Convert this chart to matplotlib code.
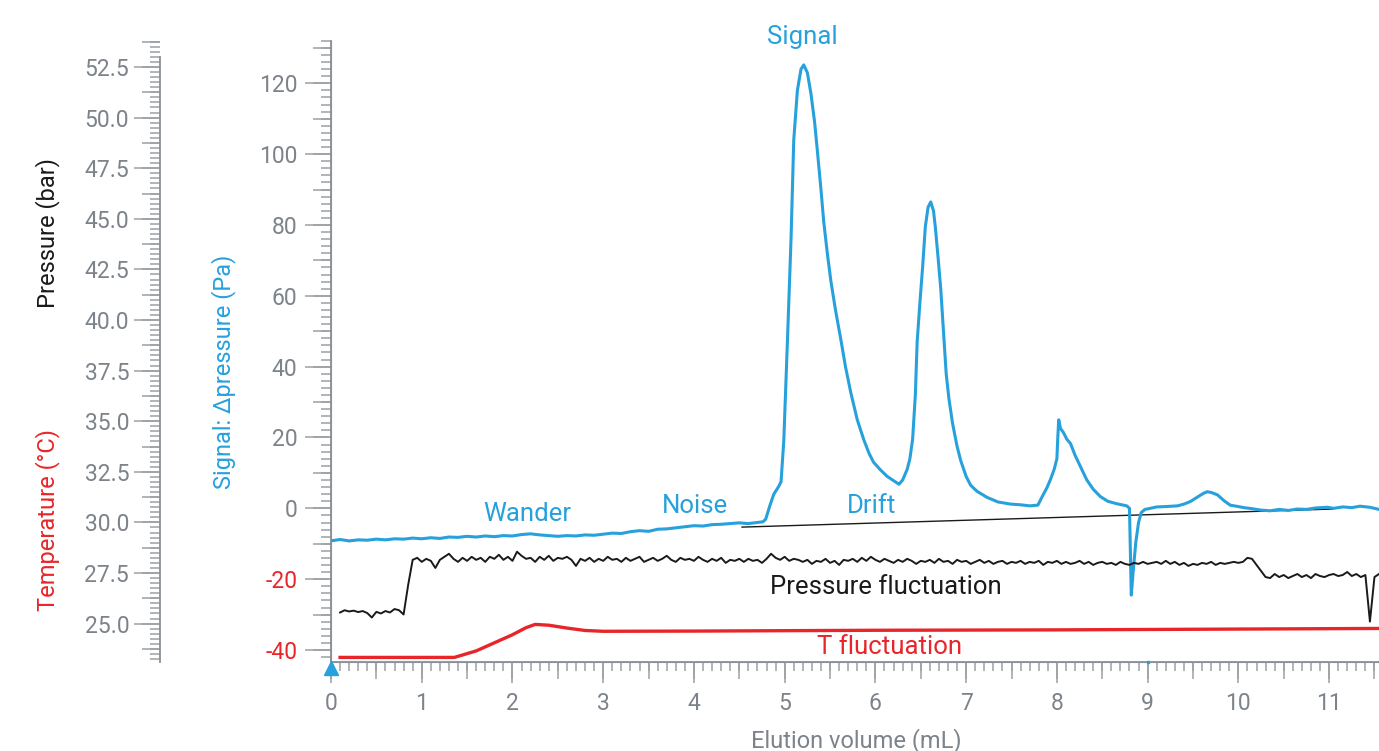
import numpy as np
import matplotlib
matplotlib.use('Agg')
from matplotlib import pyplot as plt
from matplotlib.ticker import MultipleLocator, FormatStrFormatter

plt.rcParams['font.family'] = ['Roboto', 'DejaVu Sans']
plt.rcParams['axes.unicode_minus'] = False

BLUE = '#27a1dc'
RED = '#e8262a'
BLACK = '#1a1a1a'
GRAY_TICK = '#9ba0a6'
GRAY_TXT = '#7d838a'

# signal (delta pressure, Pa) vs elution volume (mL)
sig_x = [0.02, 0.1, 0.2, 0.3, 0.4, 0.5, 0.6, 0.7, 0.8, 0.9, 1.0, 1.1, 1.2, 1.3, 1.4, 1.5,
         1.6, 1.7, 1.8, 1.9, 2.0, 2.1, 2.2, 2.3, 2.4, 2.5, 2.6, 2.7, 2.8, 2.9, 3.0, 3.1,
         3.2, 3.3, 3.4, 3.5, 3.6, 3.7, 3.8, 3.9, 4.0, 4.1, 4.2, 4.3, 4.4, 4.5, 4.6, 4.7,
         4.76, 4.79, 4.84, 4.88, 4.93, 4.96, 4.99, 5.03, 5.07, 5.10, 5.14, 5.18, 5.21, 5.25,
         5.29, 5.33, 5.36, 5.40, 5.43, 5.47, 5.51, 5.56, 5.62, 5.67, 5.73, 5.80, 5.87, 5.93,
         5.98, 6.05, 6.13, 6.20, 6.26, 6.30, 6.35, 6.38, 6.41, 6.44, 6.46, 6.49, 6.52, 6.55,
         6.58, 6.61, 6.64, 6.66, 6.69, 6.72, 6.75, 6.78, 6.81, 6.85, 6.90, 6.94, 7.00, 7.05,
         7.12, 7.23, 7.35, 7.49, 7.60, 7.70, 7.79, 7.84, 7.89, 7.93, 7.97, 8.00, 8.01, 8.02,
         8.04, 8.07, 8.11, 8.15, 8.20, 8.26, 8.33, 8.40, 8.48, 8.56, 8.66, 8.77, 8.80, 8.81,
         8.82, 8.84, 8.87, 8.90, 8.93, 8.97, 9.03, 9.10, 9.20, 9.33, 9.40, 9.47, 9.55, 9.62,
         9.66, 9.71, 9.77, 9.84, 9.91, 10.0, 10.06, 10.15, 10.25, 10.35, 10.45, 10.55, 10.65,
         10.75, 10.85, 10.98, 11.05, 11.15, 11.25, 11.34, 11.45, 11.55]
sig_y = [-9.1, -8.8, -9.2, -8.9, -9.0, -8.7, -8.9, -8.6, -8.7, -8.4, -8.6, -8.3, -8.5, -8.1, -8.2, -7.9,
         -8.1, -7.8, -8.0, -7.7, -7.8, -7.4, -7.2, -7.5, -7.7, -7.9, -7.7, -7.8, -7.5, -7.6, -7.3, -7.0,
         -7.1, -6.6, -6.3, -6.5, -5.9, -5.8, -5.5, -5.2, -4.9, -5.0, -4.6, -4.5, -4.3, -4.1, -4.3, -4.0,
         -3.8, -3.1, 1.0, 4.0, 6.0, 7.5, 19, 47, 76, 104, 118, 124, 125.2, 123,
         117, 109, 101, 90, 81, 72, 64, 56, 47.5, 40, 32.5, 25, 19.5, 15.5,
         13, 11, 9, 7.8, 6.8, 8, 11, 14, 19.5, 32, 47, 58, 68, 79.5,
         85, 86.5, 84, 79.5, 71, 62, 50, 38, 31, 24, 17.5, 13.5, 9, 6.5,
         4.8, 3.1, 1.8, 1.2, 1.0, 0.7, 0.9, 3.4, 5.8, 8.2, 11, 14, 20, 25,
         22.5, 21.5, 19.5, 18.3, 15, 11.8, 8, 5.4, 3.3, 2.0, 1.3, 0.7, 0.0, -12,
         -24.5, -18, -9.5, -4, -1.2, -0.3, 0.0, 0.4, 0.5, 0.7, 1.2, 1.9, 3.2, 4.3,
         4.7, 4.4, 3.8, 2.2, 0.9, 0.5, 0.2, -0.1, -0.5, -0.7, -0.3, -0.6, -0.2,
         -0.3, 0.1, 0.3, 0.0, 0.4, 0.2, 0.6, 0.3, -0.3]

# drift baseline
drift_x = [4.53, 11.04]
drift_y = [-5.3, -0.2]

# pressure (bar), sampled every 0.05 mL from 0.10 mL
p_start, p_step = 0.10, 0.05
pressure = [25.55, 25.66, 25.60, 25.64, 25.57, 25.62, 25.52, 25.30, 25.58, 25.50,
            25.62, 25.55, 25.72, 25.66, 25.45, 26.90, 28.15, 28.25, 28.05, 28.20,
            28.10, 27.75, 28.15, 28.30, 28.45, 28.20, 28.05, 28.25, 28.10, 28.30,
            28.15, 28.25, 28.05, 28.30, 28.20, 28.40, 28.15, 28.30, 28.10, 28.55,
            28.35, 28.20, 28.25, 28.05, 28.30, 28.15, 28.35, 28.10, 28.25, 28.20,
            28.30, 28.15, 27.85, 28.20, 28.10, 28.25, 28.05, 28.20, 28.10, 28.30,
            28.15, 28.20, 28.05, 28.25, 28.10, 28.20, 28.30, 28.05, 28.15, 28.25,
            28.10, 28.20, 28.35, 28.15, 28.05, 28.25, 28.15, 28.20, 28.10, 28.30,
            28.15, 28.05, 28.20, 28.10, 28.25, 28.00, 28.15, 28.10, 28.20, 28.05,
            28.20, 28.10, 28.15, 28.00, 28.20, 28.45, 28.25, 28.15, 28.30, 28.10,
            28.20, 28.15, 28.05, 28.15, 27.95, 28.10, 28.05, 28.20, 28.00, 28.10,
            27.90, 28.15, 28.10, 28.20, 28.05, 28.25, 28.10, 28.30, 28.15, 28.05,
            28.20, 28.10, 28.00, 28.15, 28.05, 28.20, 28.10, 27.95, 28.10, 28.05,
            28.15, 28.00, 28.20, 28.05, 28.10, 27.95, 28.15, 28.05, 28.10, 27.95,
            28.05, 28.15, 28.00, 28.10, 27.95, 28.05, 28.10, 27.95, 28.05, 28.00,
            28.10, 27.95, 28.05, 28.00, 28.10, 27.90, 28.05, 28.00, 28.10, 27.95,
            28.05, 27.95, 28.00, 28.10, 27.95, 28.05, 27.90, 28.00, 28.05, 27.95,
            28.00, 27.90, 28.05, 27.95, 27.90, 28.00, 27.95, 28.05, 27.95, 28.00,
            28.05, 27.95, 28.10, 27.95, 28.05, 27.90, 28.00, 27.85, 27.95, 27.90,
            28.00, 27.95, 28.05, 27.90, 28.00, 27.95, 28.00, 28.05, 28.00, 28.05,
            28.25, 28.20, 27.90, 27.60, 27.30, 27.25, 27.45, 27.30, 27.40, 27.25,
            27.35, 27.45, 27.30, 27.40, 27.25, 27.45, 27.35, 27.30, 27.40, 27.45,
            27.35, 27.40, 27.55, 27.35, 27.45, 27.30, 27.40, 25.10, 27.30, 27.45]
press_x = p_start + p_step * np.arange(len(pressure))

# temperature (degC)
temp_x = [0.10, 1.36, 1.45, 1.60, 1.80, 2.00, 2.15, 2.25, 2.40, 2.60, 2.80, 3.00,
          4.00, 5.00, 6.00, 7.00, 8.00, 9.00, 10.00, 11.55]
temp_y = [23.33, 23.33, 23.45, 23.65, 24.05, 24.45, 24.80, 24.96, 24.92, 24.78, 24.66, 24.62,
          24.63, 24.65, 24.67, 24.68, 24.69, 24.71, 24.73, 24.76]

W, H = 1379, 751
fig = plt.figure(figsize=(W / 100, H / 100), dpi=100)
left, right, top, bottom = 331, 1379, 40.8, 661.7
rect = [left / W, 1 - bottom / H, (right - left) / W, (bottom - top) / H]

ax = fig.add_axes(rect)
ax.set_xlim(0, 11.55)
ax.set_ylim(-43.3, 132)
for s in ['top', 'right']:
    ax.spines[s].set_visible(False)
for s in ['left', 'bottom']:
    ax.spines[s].set_color('#8a9097')
    ax.spines[s].set_linewidth(1.3)

ax.xaxis.set_major_locator(MultipleLocator(1))
ax.xaxis.set_minor_locator(MultipleLocator(0.1))
ax.yaxis.set_major_locator(MultipleLocator(20))
ax.yaxis.set_minor_locator(MultipleLocator(2))
ax.tick_params(axis='x', which='major', length=15, width=1.1, color=GRAY_TICK,
               labelsize=16.5, labelcolor=GRAY_TXT, pad=7)
ax.tick_params(axis='x', which='minor', length=6.5, width=1.1, color=GRAY_TICK)
ax.tick_params(axis='y', which='major', length=18.7, width=1.1, color=GRAY_TICK,
               labelsize=16.5, labelcolor=GRAY_TXT, pad=5.5)
ax.tick_params(axis='y', which='minor', length=7.2, width=1.1, color=GRAY_TICK)

# medium ticks
secx = ax.secondary_xaxis('bottom')
secx.xaxis.set_major_locator(MultipleLocator(0.5))
secx.tick_params(length=12, width=1.1, color=GRAY_TICK, labelbottom=False)
secx.spines['bottom'].set_color('#8a9097')
secy = ax.secondary_yaxis('left')
secy.yaxis.set_major_locator(MultipleLocator(10))
secy.tick_params(length=13, width=1.1, color=GRAY_TICK, labelleft=False)
secy.spines['left'].set_color('#8a9097')

ax.plot(drift_x, drift_y, color=BLACK, lw=1.0, zorder=3)
ax.plot(sig_x, sig_y, color=BLUE, lw=2.2, zorder=4)
ax.plot([0], [-44.95], marker='^', ms=9.5, color=BLUE, clip_on=False, zorder=6)
ax.plot([9], [-43.3], marker='s', ms=2, color=BLUE, clip_on=False, zorder=6)

# pressure / temperature share the left scale
p_lo, p_hi = 25 - (bottom - 623.6) / 20.24, 25 + (623.6 - top) / 20.24
ax2 = ax.twinx()
ax2.set_ylim(p_lo, p_hi)
ax2.axis('off')
ax2.plot(press_x, pressure, color=BLACK, lw=1.4, zorder=3)
ax2.plot(temp_x, temp_y, color=RED, lw=2.4, zorder=3)

# pressure scale axis
pax = fig.add_axes([160 / W, rect[1], 0.0005, rect[3]])
pax.set_ylim(p_lo, p_hi)
pax.set_xticks([])
for s in ['top', 'right', 'bottom']:
    pax.spines[s].set_visible(False)
pax.spines['left'].set_color('#8a9097')
pax.spines['left'].set_linewidth(1.3)
pax.spines['left'].set_bounds(p_lo, 53.0)
pax.patch.set_visible(False)
pax.yaxis.set_major_locator(MultipleLocator(2.5))
pax.yaxis.set_minor_locator(MultipleLocator(0.25))
pax.yaxis.set_major_formatter(FormatStrFormatter('%.1f'))
pax.tick_params(axis='y', which='major', length=18.7, width=1.1, color=GRAY_TICK,
                labelsize=16.5, labelcolor=GRAY_TXT, pad=3.5)
pax.tick_params(axis='y', which='minor', length=7.2, width=1.1, color=GRAY_TICK)
psec = pax.secondary_yaxis('left')
psec.yaxis.set_major_locator(MultipleLocator(1.25))
psec.tick_params(length=13, width=1.1, color=GRAY_TICK, labelleft=False)
psec.spines['left'].set_visible(False)

fig.canvas.draw()
for lbl in ax.get_yticklabels():
    if lbl.get_text().startswith('-'):
        lbl.set_color(RED)

# annotations
ax.text(5.19, 133.1, 'Signal', color=BLUE, fontsize=18.5, ha='center', va='center')
ax.text(2.16, -1.6, 'Wander', color=BLUE, fontsize=18.5, ha='center', va='center')
ax.text(4.01, 0.65, 'Noise', color=BLUE, fontsize=18.5, ha='center', va='center')
ax.text(5.96, 0.65, 'Drift', color=BLUE, fontsize=18.5, ha='center', va='center')
ax.text(6.11, -22.2, 'Pressure fluctuation', color=BLACK, fontsize=18.5, ha='center', va='center')
ax.text(6.16, -39.1, 'T fluctuation', color=RED, fontsize=18.5, ha='center', va='center')

fig.text(856 / W, 1 - 741 / H, 'Elution volume (mL)', color=GRAY_TXT, fontsize=17,
         ha='center', va='center')
fig.text(48 / W, 1 - 233 / H, 'Pressure (bar)', color=BLACK, fontsize=17,
         rotation=90, ha='center', va='center')
fig.text(48 / W, 1 - 520 / H, 'Temperature (°C)', color=RED, fontsize=17,
         rotation=90, ha='center', va='center')
fig.text(224 / W, 1 - 372 / H, 'Signal: Δpressure (Pa)', color=BLUE, fontsize=17,
         rotation=90, ha='center', va='center')

fig.savefig('out.png', dpi=100)
